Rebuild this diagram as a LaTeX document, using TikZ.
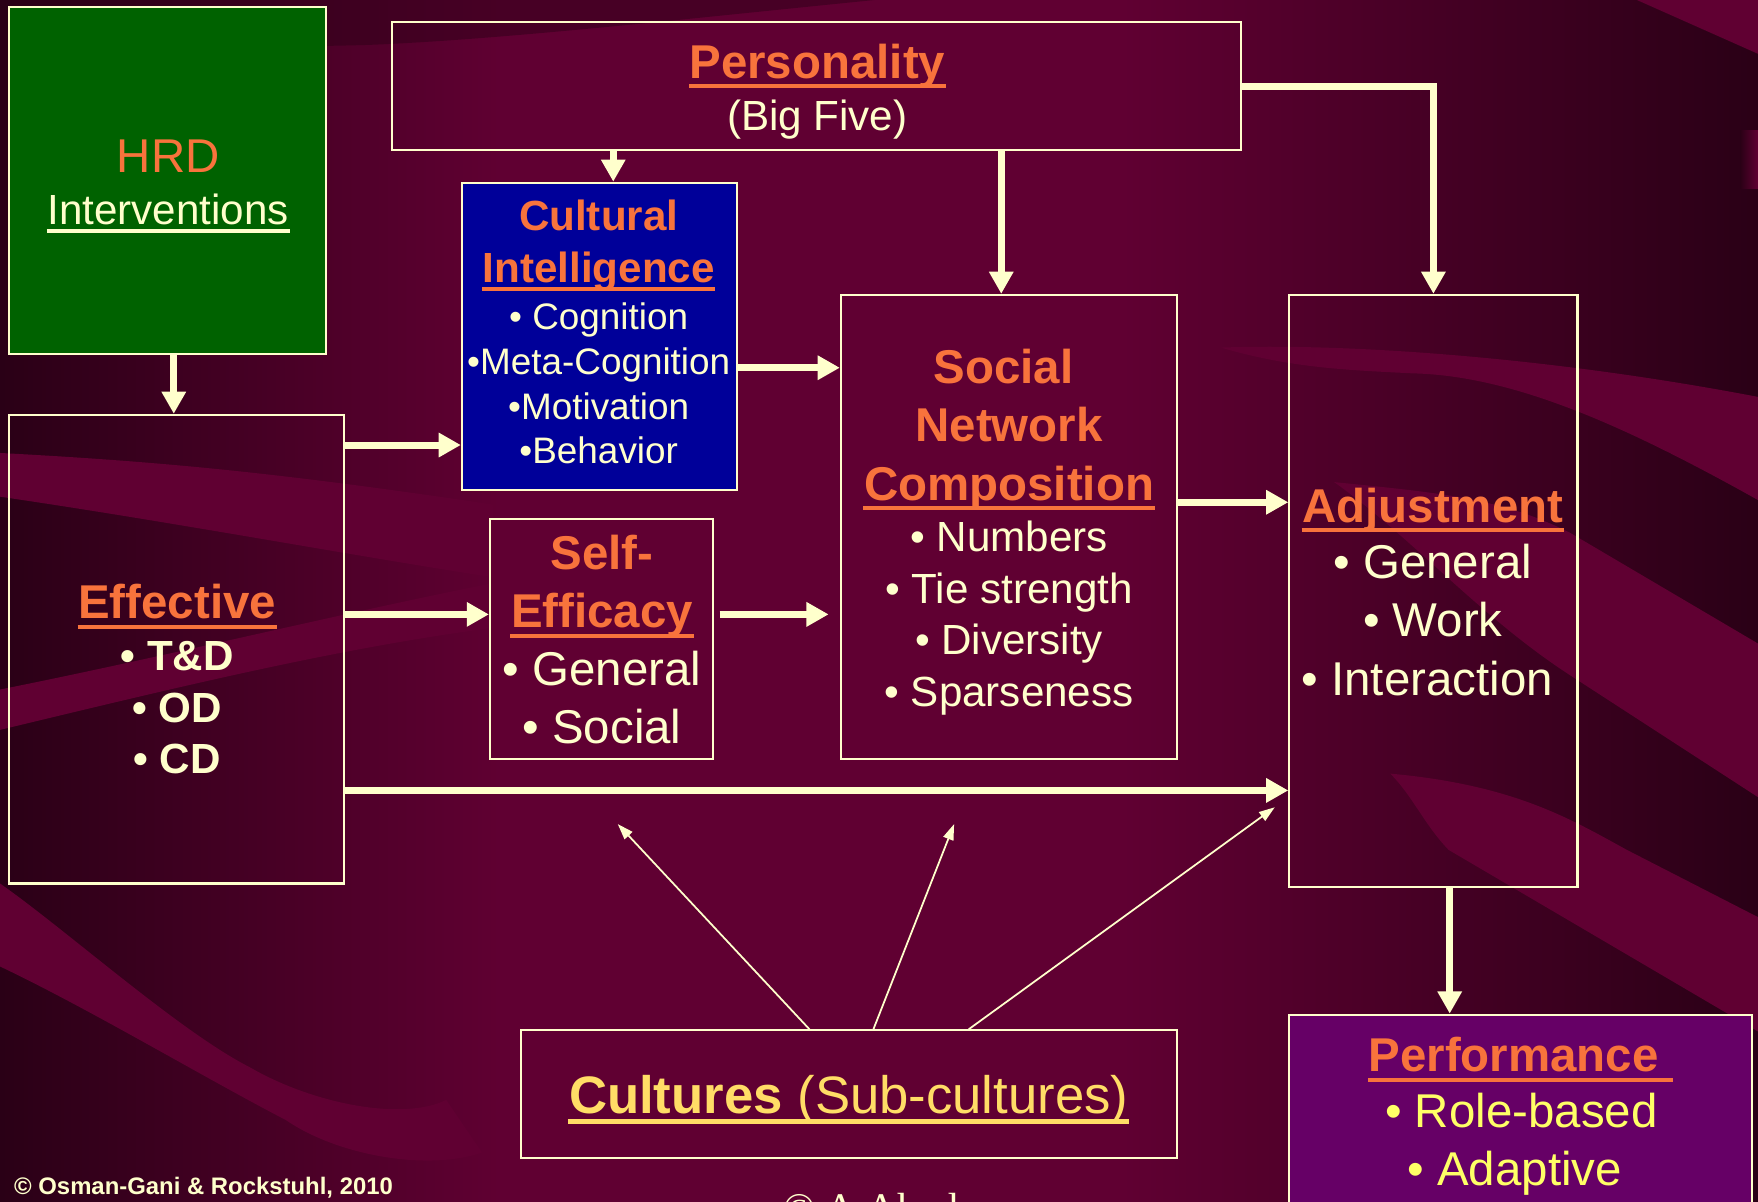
\documentclass[tikz,border=0pt]{standalone}
\usepackage{fontspec}
\setmainfont{Liberation Sans}
\newfontfamily\serifA{Liberation Serif}
\usetikzlibrary{arrows.meta,fit,calc}
\definecolor{bgbase}{HTML}{600032}
\definecolor{bgdark}{HTML}{2A0016}
\definecolor{cream}{HTML}{FFFFCC}
\definecolor{orangeT}{HTML}{F8733C}
\definecolor{greenbox}{HTML}{006200}
\definecolor{bluebox}{HTML}{000099}
\definecolor{purplebox}{HTML}{660066}
\definecolor{yellowT}{HTML}{FFFF66}
\definecolor{goldT}{HTML}{FFDD66}
\newcommand\ulx[4]{\draw[#2,line width=#3] ([yshift=-#4]#1.base west) -- ([yshift=-#4]#1.base east);}
\begin{document}
\begin{tikzpicture}[x=0.011212cm, y=-0.011212cm,
  box/.style={draw=cream, line width=0.6pt, inner sep=0pt},
  lbl/.style={inner sep=0pt, anchor=base},
  lobig/.style={lbl, text=orangeT, font=\fontsize{13.5}{16}\selectfont\bfseries},
  lomed/.style={lbl, text=orangeT, font=\fontsize{12}{14}\selectfont\bfseries},
  lcbig/.style={lbl, text=cream, font=\fontsize{13.5}{16}\selectfont},
  lcmed/.style={lbl, text=cream, font=\fontsize{12}{14}\selectfont},
  lcmedb/.style={lbl, text=cream, font=\fontsize{12}{14}\selectfont\bfseries},
  lcsml/.style={lbl, text=cream, font=\fontsize{10.5}{12.5}\selectfont},
  lybig/.style={lbl, text=yellowT, font=\fontsize{13.5}{16}\selectfont},
  fat/.style={draw=cream, line width=2pt, -{Triangle[length=6.3pt,width=6.6pt]}},
  slim/.style={draw=cream, line width=0.5pt, -{Triangle[length=4.5pt,width=3pt]}},
]
% ---------- background ----------
\useasboundingbox (0,0) rectangle (1568,1072);
\fill[bgbase] (0,0) rectangle (1568,1072);
\shade[left color=bgdark, right color=bgbase] (0,0) rectangle (450,1072);
\shade[left color=bgbase, right color=bgdark] (1000,0) rectangle (1568,1072);
\fill[bgdark, opacity=.45] (0,0) -- (780,0) .. controls (600,18) and (450,35) .. (330,40) .. controls (200,44) and (80,38) .. (0,30) -- cycle;
% left bands
\fill[bgbase] (0,404) .. controls (150,412) and (250,422) .. (440,450) -- (440,515) .. controls (300,493) and (150,465) .. (0,443) -- cycle;
\fill[bgbase] (0,615) .. controls (150,585) and (300,548) .. (440,520) -- (440,560) .. controls (300,578) and (150,615) .. (0,651) -- cycle;
% bottom-left swoosh
\fill[bgbase] (0,788) .. controls (60,830) and (160,920) .. (223,952) .. controls (280,985) and (360,1000) .. (398,981)
  -- (430,1028) .. controls (380,1045) and (300,1030) .. (255,999) .. controls (180,960) and (80,900) .. (0,862) -- cycle;
% right stripes
\fill[bgbase] (1460,0) -- (1568,0) -- (1568,48) -- cycle;
\fill[bgbase] (1089,310) .. controls (1200,306) and (1380,318) .. (1568,354) -- (1568,446) .. controls (1450,380) and (1350,335) .. (1260,333) .. controls (1200,330) and (1150,328) .. (1089,310) -- cycle;
\fill[bgbase] (1190,430) .. controls (1290,440) and (1340,445) .. (1400,475) -- (1568,574) -- (1568,711) -- (1400,602) .. controls (1320,550) and (1260,480) .. (1190,430) -- cycle;
\fill[bgbase] (1240,690) .. controls (1350,700) and (1400,730) .. (1451,758) -- (1568,818) -- (1568,920) -- (1292,758) .. controls (1270,735) and (1260,710) .. (1240,690) -- cycle;
\shade[left color=bgdark, right color=bgbase] (1552,116) rectangle (1568,168);

% ---------- boxes ----------
\node[box, fill=greenbox, fit={(8,6)(291,316)}] (hrd) {};
\node[box, fit={(350,20)(1107,134)}] (pers) {};
\node[box, fill=bluebox, fit={(412,163)(657,437)}] (cq) {};
\node[box, fit={(8,370)(307,788)}] (eff) {};
\node[box, fit={(437,463)(636,677)}] (se) {};
\node[box, fit={(750,263)(1050,677)}] (snc) {};
\node[box, fit={(1150,263)(1407,791)}] (adj) {};
\node[box, fill=purplebox, fit={(1150,905)(1563,1095)}] (perf) {};
\node[box, fit={(465,919)(1050,1033)}] (cult) {};

% ---------- texts ----------
\node[lbl, text=orangeT, font=\fontsize{13.5}{16}\selectfont] (thrd) at (150,154) {HRD};
\node[lcmed] (tint) at (150,200) {Interventions};
\ulx{tint}{cream}{1pt}{1.9pt}

\node[lobig] (tpers) at (729,70) {Personality};
\ulx{tpers}{orangeT}{1.1pt}{2.2pt}
\node[lcmed] (tbig) at (729,116) {(Big Five)};

\node[lomed] (tcq1) at (534,206) {Cultural};
\node[lomed] (tcq2) at (534,252) {Intelligence};
\ulx{tcq2}{orangeT}{1pt}{1.9pt}
\node[lcsml] (tcq3) at (534,294) {• Cognition};
\node[lcsml] (tcq4) at (534,334) {•Meta-Cognition};
\node[lcsml] (tcq5) at (534,374) {•Motivation};
\node[lcsml] (tcq6) at (534,413) {•Behavior};

\node[lobig] (teff) at (158,552) {Effective};
\ulx{teff}{orangeT}{1.1pt}{2.2pt}
\node[lcmedb] (ttd) at (158,598) {• T\&D};
\node[lcmedb] (tod) at (158,644) {• OD};
\node[lcmedb] (tcd) at (158,690) {• CD};

\node[lobig] (tse1) at (537,508) {Self-};
\node[lobig] (tse2) at (537,560) {Efficacy};
\ulx{tse2}{orangeT}{1.1pt}{2.2pt}
\node[lcbig] (tse3) at (537,611) {• General};
\node[lcbig] (tse4) at (537,663) {• Social};

\node[lobig] (tsn1) at (895,342) {Social};
\node[lobig] (tsn2) at (900,394) {Network};
\node[lobig] (tsn3) at (900,446) {Composition};
\ulx{tsn3}{orangeT}{1.1pt}{2.2pt}
\node[lcmed] (tsn4) at (900,492) {• Numbers};
\node[lcmed] (tsn5) at (900,538) {• Tie strength};
\node[lcmed] (tsn6) at (900,584) {• Diversity};
\node[lcmed] (tsn7) at (900,630) {• Sparseness};

\node[lobig] (tadj1) at (1278,466) {Adjustment};
\ulx{tadj1}{orangeT}{1.1pt}{2.2pt}
\node[lcbig] (tadj2) at (1278,516) {• General};
\node[lcbig] (tadj3) at (1278,568) {• Work};
\node[lcbig] (tadj4) at (1273,620) {• Interaction};

\node[lobig] (tperf1) at (1350,956) {Performance};
\draw[orangeT, line width=1.1pt] ([yshift=-2.2pt]tperf1.base west) -- ([yshift=-2.2pt,xshift=0.14cm]tperf1.base east);
\node[lybig] (tperf2) at (1357,1006) {• Role-based};
\node[lybig] (tperf3) at (1351,1057) {• Adaptive};

\node[lbl, text=goldT, font=\fontsize{15}{18}\selectfont] (tcult) at (757,993) {\textbf{Cultures} (Sub-cultures)};
\ulx{tcult}{goldT}{1.3pt}{2.4pt}

\node[lbl, anchor=base west, text=cream, font=\fontsize{6.8}{8}\selectfont\bfseries] (tcopy) at (12,1065) {© Osman-Gani \& Rockstuhl, 2010};
\node[inner sep=0pt, anchor=north west, text=cream, font=\serifA\fontsize{12}{14}\selectfont] (tahad) at (698,1064) {© A Ahad};

% ---------- connectors ----------
\draw[fat] ([xshift=-0.028cm]eff.north |- hrd.south) -- ([xshift=-0.028cm]eff.north);
\draw[fat] ([xshift=0.14cm]cq.north |- pers.south) -- ([xshift=0.14cm]cq.north);
\draw[fat] ([xshift=-0.078cm]snc.north |- pers.south) -- ([xshift=-0.078cm]snc.north);
\draw[fat] (pers.east) -| (adj.north);
\coordinate (a1) at ([yshift=0.46cm]cq.south west);
\draw[fat] (a1 -| eff.east) -- (a1);
\coordinate (a2) at ([yshift=0.247cm]se.west);
\draw[fat] (a2 -| eff.east) -- (a2);
\coordinate (a3) at ([yshift=0.247cm]se.east);
\draw[fat, shorten <=0.056cm, shorten >=0.112cm] (a3) -- (a3 -| snc.west);
\coordinate (a4) at ([yshift=-0.314cm]cq.east);
\draw[fat] (a4) -- (a4 -| snc.west);
\coordinate (a5) at ([yshift=0.247cm]snc.east);
\draw[fat] (a5) -- (a5 -| adj.west);
\coordinate (a6) at ([yshift=-1.413cm]eff.east);
\draw[fat] (a6) -- (a6 -| adj.west);
\coordinate (a7) at ([xshift=0.163cm]adj.south);
\draw[fat] (a7) -- (a7 |- perf.north);

\coordinate (c1) at (551,735);
\coordinate (c2) at (851,735);
\coordinate (c3) at (1137,720);
\draw[slim] ([xshift=-0.398cm]cult.north) -- (c1);
\draw[slim] ([xshift=0.241cm]cult.north) -- (c2);
\draw[slim] ([xshift=1.194cm]cult.north) -- (c3);
\end{tikzpicture}
\end{document}
